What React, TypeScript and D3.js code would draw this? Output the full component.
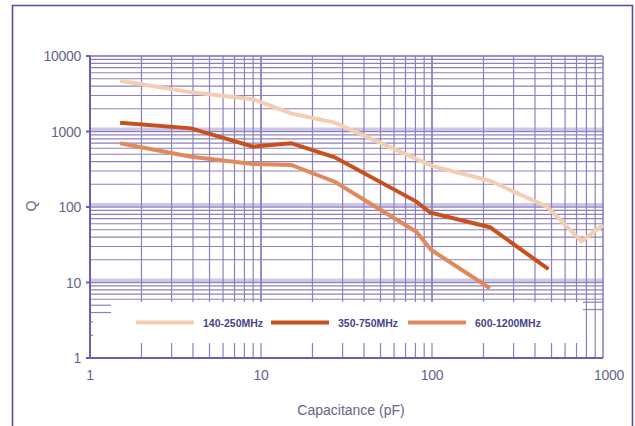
import React from "react";
import * as d3 from "d3";

const seriesNames = ["140-250MHz", "350-750MHz", "600-1200MHz"];
const seriesColors = ["#F5CDB0", "#C9501C", "#E2895C"];

const capA = [1.5, 3.9, 9, 15, 27, 100, 218, 470, 750, 1000];
const qA = [4700, 3300, 2670, 1740, 1310, 350, 223, 101, 35, 58];

const capB = [1.5, 3.9, 9, 15, 27, 81, 98, 218, 480];
const qB = [1310, 1100, 630, 700, 455, 118, 84, 54, 15];

const capC = [1.5, 3.9, 9, 15, 27, 81, 99, 218];
const qC = [700, 464, 371, 360, 216, 47, 27, 8.4];

const xTicks = [1, 10, 100, 1000];
const yTicks = [1, 10, 100, 1000, 10000];

const W = 635;
const H = 426;

export default function App() {
  const x = d3.scaleLog().domain([1, 1000]).range([90, 603]);
  const y = d3.scaleLog().domain([1, 10000]).range([358, 56]);

  const series = [
    { name: seriesNames[0], color: seriesColors[0], cap: capA, q: qA },
    { name: seriesNames[1], color: seriesColors[1], cap: capB, q: qB },
    { name: seriesNames[2], color: seriesColors[2], cap: capC, q: qC },
  ];

  const line = d3
    .line<[number, number]>()
    .x((d) => x(d[0]))
    .y((d) => y(d[1]));

  const gridCol = "#8b82bd";
  const axisCol = "#6a5fae";
  const textCol = "#68648c";

  const hVals: number[] = [];
  [1, 10, 100, 1000].forEach((b) => {
    for (let m = 1; m <= 9; m++) hVals.push(b * m);
  });
  hVals.push(10000);

  const vVals: number[] = [];
  [1, 10, 100].forEach((b) => {
    for (let m = 1; m <= 9; m++) vVals.push(b * m);
  });
  vVals.push(1000);

  const legendTop = 302;
  const legendBottom = 343;
  const x0 = x(1);
  const x1 = x(1000);

  return (
    <svg
      width={W}
      height={H}
      style={{ position: "absolute", left: 0, top: 0, background: "#fff" }}
      fontFamily="Liberation Sans, Arial, sans-serif"
    >
      <rect x={0} y={0} width={W} height={H} fill="#fff" />
      <path
        d={`M12.5,${H + 2} L12.5,5.5 L632.5,5.5 L632.5,${H + 2}`}
        fill="none"
        stroke="#5b4aa6"
        strokeWidth={1.6}
      />

      {[10, 100, 1000].map((v) => (
        <rect
          key={"band" + v}
          x={x0}
          y={y(v) - 4}
          width={x1 - x0}
          height={5}
          fill="#c4bde0"
          opacity={0.85}
        />
      ))}

      {hVals.map((v, i) => {
        const yy = y(v);
        if (v === 1) return null;
        if (v >= 6) {
          return (
            <line key={"h" + i} x1={x0} x2={x1} y1={yy} y2={yy} stroke={gridCol} strokeWidth={1.2} />
          );
        }
        if (v === 5 || v === 4) {
          return (
            <g key={"h" + i}>
              <line x1={x0} x2={x0 + 21} y1={yy} y2={yy} stroke={gridCol} strokeWidth={1.2} />
              <line x1={x1 - 20} x2={x1} y1={yy - 3} y2={yy - 3} stroke={gridCol} strokeWidth={1.2} />
            </g>
          );
        }
        return (
          <line key={"h" + i} x1={x0} x2={x0 + 3} y1={yy} y2={yy} stroke={gridCol} strokeWidth={1.2} />
        );
      })}

      {vVals.map((v, i) => {
        const xx = x(v);
        if (v === 1 || v === 1000) return null;
        const full = v >= 800;
        return (
          <g key={"v" + i}>
            <line
              x1={xx}
              x2={xx}
              y1={y(10000)}
              y2={full ? y(1) : legendTop}
              stroke={gridCol}
              strokeWidth={v === 10 || v === 100 ? 1.8 : 1.2}
            />
            {!full && (
              <line x1={xx} x2={xx} y1={legendBottom} y2={y(1)} stroke={gridCol} strokeWidth={1.2} />
            )}
          </g>
        );
      })}

      <line x1={x1} x2={x1} y1={y(10000)} y2={y(1)} stroke={gridCol} strokeWidth={1.6} />
      <line x1={x0} x2={x1} y1={y(10000)} y2={y(10000)} stroke={gridCol} strokeWidth={1.6} />
      <line x1={x0} x2={x0} y1={y(10000)} y2={y(1)} stroke={axisCol} strokeWidth={2} />
      <line x1={x0} x2={x1} y1={y(1)} y2={y(1)} stroke={axisCol} strokeWidth={2} />

      {yTicks.map((v) => (
        <line key={"yt" + v} x1={x0 - 4} x2={x0} y1={y(v)} y2={y(v)} stroke={axisCol} strokeWidth={2} />
      ))}

      {series.map((s) => (
        <path
          key={s.name}
          d={line(s.cap.map((c, i) => [c, s.q[i]] as [number, number])) || ""}
          fill="none"
          stroke={s.color}
          strokeWidth={4}
          strokeLinejoin="miter"
        />
      ))}

      {yTicks.map((v) => (
        <text
          key={"yl" + v}
          x={81}
          y={y(v) + 5}
          textAnchor="end"
          fontSize={14}
          fill={textCol}
          letterSpacing={-0.3}
        >
          {String(v)}
        </text>
      ))}

      {xTicks.map((v) => (
        <text
          key={"xl" + v}
          x={x(v) + (v === 1000 ? 6 : 0)}
          y={380}
          textAnchor="middle"
          fontSize={14}
          fill={textCol}
          letterSpacing={-0.3}
        >
          {String(v)}
        </text>
      ))}

      <text x={351} y={415} textAnchor="middle" fontSize={14} fill={textCol}>
        Capacitance (pF)
      </text>
      <text transform={`translate(36,206) rotate(-90)`} textAnchor="middle" fontSize={14} fill={textCol}>
        Q
      </text>

      {series.map((s, i) => {
        const lx = [136, 271, 408][i];
        return (
          <g key={"lg" + i}>
            <line x1={lx} x2={lx + 58} y1={322.5} y2={322.5} stroke={s.color} strokeWidth={4} />
            <text x={lx + 67} y={326.5} fontSize={10.5} fontWeight="bold" fill="#4b3f8c">
              {s.name}
            </text>
          </g>
        );
      })}
    </svg>
  );
}
